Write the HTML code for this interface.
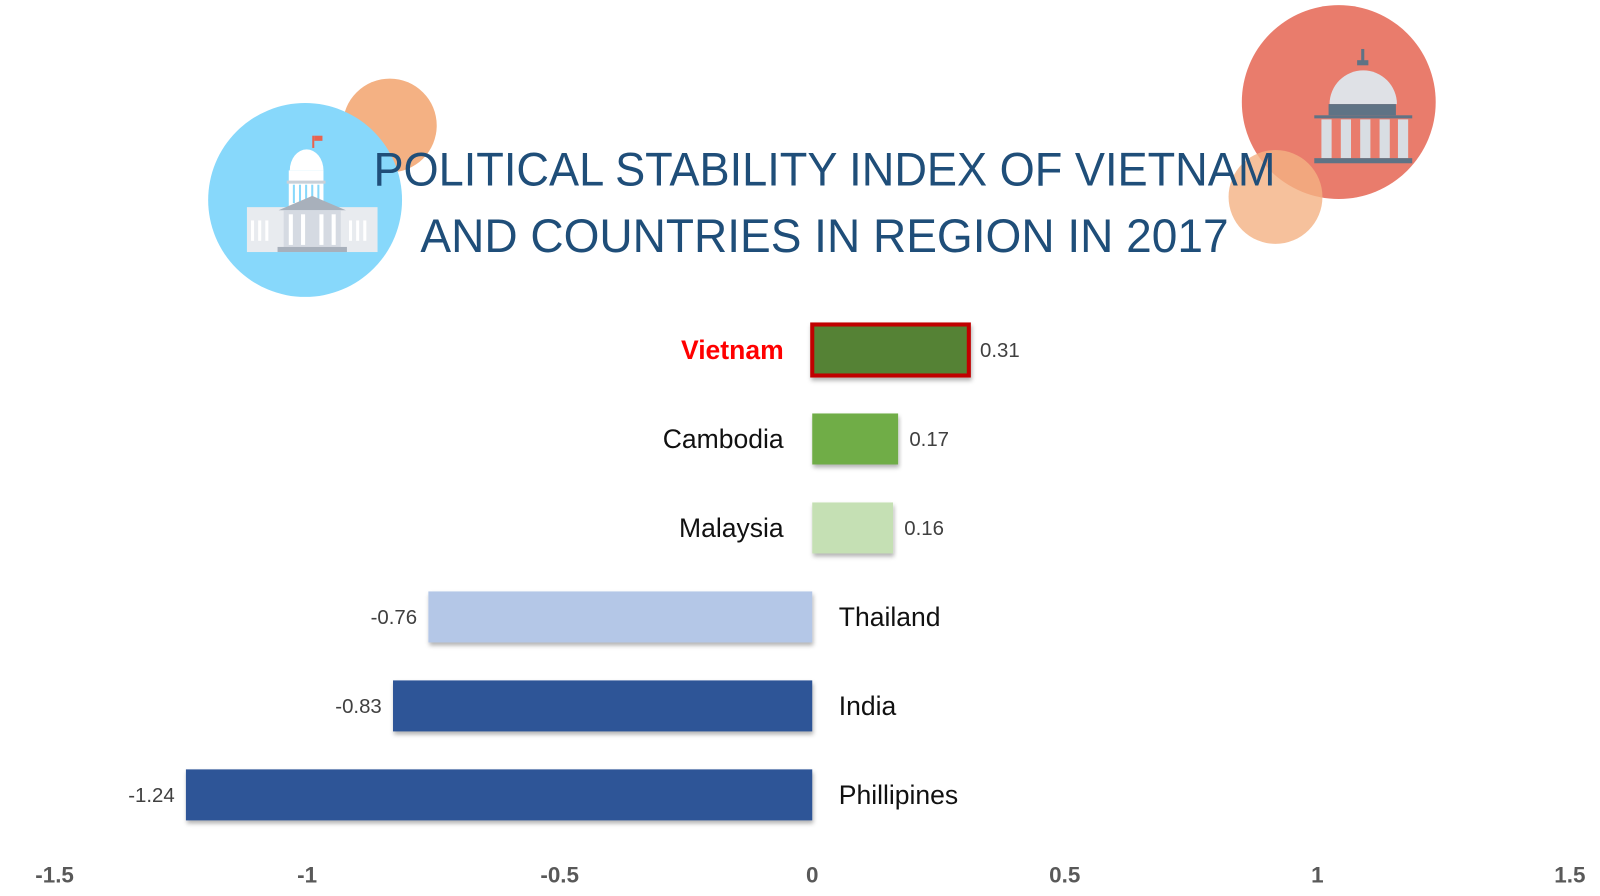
<!DOCTYPE html>
<html><head><meta charset="utf-8"><style>
html,body{margin:0;padding:0;background:#fff;}
svg{display:block;font-family:"Liberation Sans",sans-serif;}
</style></head><body>
<svg id="chart" width="1600" height="896" viewBox="0 0 1600 896">
<defs><filter id="sh" x="-5%" y="-20%" width="110%" height="150%"><feDropShadow dx="1" dy="3" stdDeviation="2" flood-color="#000" flood-opacity="0.3"/></filter></defs>
<g transform="scale(1.0204)">
<g>
<circle cx="382" cy="123" r="46" fill="#f4b183"/>
<circle cx="299" cy="196" r="95" fill="#87d8fb"/>
<rect x="242" y="203" width="128" height="44" fill="#e8ebef"/>
<g fill="#fff"><rect x="246" y="216" width="3" height="20"/><rect x="253" y="216" width="3" height="20"/><rect x="260" y="216" width="3" height="20"/><rect x="342" y="216" width="3" height="20"/><rect x="349" y="216" width="3" height="20"/><rect x="356" y="216" width="3" height="20"/></g>
<rect x="283" y="167" width="34" height="35" fill="#fff"/>
<g fill="#87d8fb"><rect x="287" y="181" width="2" height="18"/><rect x="293" y="181" width="2" height="18"/><rect x="299" y="181" width="2" height="18"/><rect x="305" y="181" width="2" height="18"/><rect x="311" y="181" width="2" height="18"/></g>
<path d="M284 167 a16 20 0 0 1 33 0z" fill="#fff"/>
<rect x="281" y="177" width="38" height="3" fill="#c9d0d8"/>
<polygon points="273,206 306,192 339,206" fill="#a8b0bb"/>
<rect x="278" y="206" width="56" height="36" fill="#d5dae2"/>
<g fill="#fff"><rect x="283" y="210" width="4" height="30"/><rect x="295" y="210" width="4" height="30"/><rect x="313" y="210" width="4" height="30"/><rect x="325" y="210" width="4" height="30"/></g>
<rect x="272" y="242" width="68" height="5" fill="#a8b0bb"/>
<rect x="306" y="133" width="2" height="12" fill="#e8634f"/>
<rect x="308" y="133" width="8" height="5" fill="#e8634f"/>
</g>
<g>
<circle cx="1312" cy="100" r="95" fill="#e97c6c"/>
<circle cx="1250" cy="193" r="46" fill="#f4b183" opacity="0.8"/>
<path d="M1303 102 a33 33 0 0 1 66 0z" fill="#dfe1e6"/>
<rect x="1302" y="102" width="66" height="11" fill="#5f7385"/>
<rect x="1288" y="113" width="96" height="3" fill="#5f7385"/>
<g fill="#d8dde3"><rect x="1295" y="117" width="10" height="38"/><rect x="1314" y="117" width="10" height="38"/><rect x="1333" y="117" width="10" height="38"/><rect x="1352" y="117" width="10" height="38"/><rect x="1370" y="117" width="10" height="38"/></g>
<rect x="1288" y="155" width="96" height="5" fill="#5f7385"/>
<rect x="1334" y="48" width="3" height="14" fill="#5f7385"/>
<rect x="1330" y="59" width="11" height="5" fill="#5f7385"/>
</g>
<g fill="#1f4e79" font-size="46">
<text x="808" y="182" text-anchor="middle" textLength="884" lengthAdjust="spacingAndGlyphs">POLITICAL STABILITY INDEX OF VIETNAM</text>
<text x="808" y="247" text-anchor="middle" textLength="792" lengthAdjust="spacingAndGlyphs">AND COUNTRIES IN REGION IN 2017</text>
</g>
<g id="plot"></g>
</g>
</svg>
<script>
const categories = ["Vietnam","Cambodia","Malaysia","Thailand","India","Phillipines"];
const values = [0.31,0.17,0.16,-0.76,-0.83,-1.24];
const valueLabels = ["0.31","0.17","0.16","-0.76","-0.83","-1.24"];
const barColors = ["#548235","#70ad47","#c5e0b4","#b4c7e7","#2f5597","#2f5597"];
const tickValues = [-1.5,-1,-0.5,0,0.5,1,1.5];
const tickLabels = ["-1.5","-1","-0.5","0","0.5","1","1.5"];

const NS="http://www.w3.org/2000/svg";
const x = v => 796 + v*495;
const yc = i => 343 + i*87.2;
const plot=document.getElementById('plot');
function mk(t,a){const e=document.createElementNS(NS,t);for(const k in a)e.setAttribute(k,a[k]);plot.appendChild(e);return e;}
categories.forEach((c,i)=>{
  const v=values[i], x0=Math.min(x(0),x(v)), w=Math.abs(x(v)-x(0)), y=yc(i)-25;
  const r=mk('rect',{x:x0,y:y,width:w,height:50,fill:barColors[i],filter:'url(#sh)'});
  if(i===0){r.setAttribute('stroke','#c00000');r.setAttribute('stroke-width','4');}
  
  
  const pos=v>=0;
  const lab=mk('text',{x:pos?x(0)-28:x(0)+26,y:yc(i)+9,'text-anchor':pos?'end':'start','font-size':26,fill:i===0?'#ff0000':'#111','font-weight':i===0?'bold':'normal'});
  lab.textContent=c;
  
  
  const vl=mk('text',{x:pos?x(v)+11:x(v)-11,y:yc(i)+7,'text-anchor':pos?'start':'end','font-size':20,fill:'#404040'});
  vl.textContent=valueLabels[i];
  
  
});
tickValues.forEach((t,i)=>{
  const e=mk('text',{x:x(t),y:865,'text-anchor':'middle','font-size':22,'font-weight':'bold',fill:'#595959'});
  e.textContent=tickLabels[i];
  
  
});
</script>
</body></html>
